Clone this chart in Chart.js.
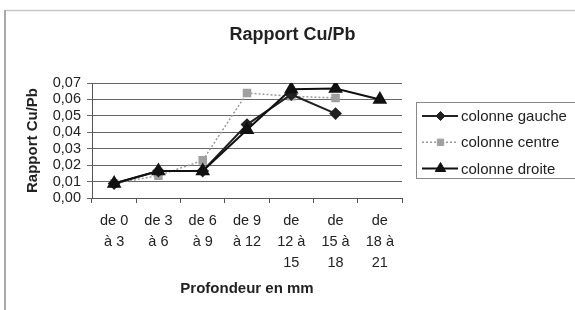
<!DOCTYPE html>
<html>
<head>
<meta charset="utf-8">
<script src="https://cdn.jsdelivr.net/npm/chart.js@4/dist/chart.umd.min.js"></script>
<style>
html,body{margin:0;padding:0;background:#fff;}
#wrap{width:575px;height:310px;position:relative;}
</style>
</head>
<body>
<div id="wrap"><canvas id="c" width="575" height="310"></canvas></div>
<script>
const categories = [["de 0","à 3"],["de 3","à 6"],["de 6","à 9"],["de 9","à 12"],["de","12 à","15"],["de","15 à","18"],["de","18 à","21"]];
const colonneGauche = [0.0088, 0.0164, 0.0164, 0.0447, 0.063, 0.0514, null];
const colonneCentre = [0.0088, 0.0136, 0.0229, 0.0639, 0.0619, 0.0609, null];
const colonneDroite = [0.0088, 0.0164, 0.0164, 0.0416, 0.0662, 0.0666, 0.060];
const seriesNames = ["colonne gauche", "colonne centre", "colonne droite"];
const yTicks = {min: 0, max: 0.07, step: 0.01};

const FONT = "'Liberation Sans', Arial, sans-serif";
Chart.defaults.font.family = FONT;
Chart.defaults.color = '#222';

const frame = {
  id: 'frame',
  beforeDraw(chart) {
    const ctx = chart.ctx;
    ctx.save();
    ctx.fillStyle = '#fff';
    ctx.fillRect(0, 0, chart.width, chart.height);
    ctx.strokeStyle = '#c8c8c8';
    ctx.lineWidth = 1.5;
    ctx.beginPath();
    ctx.moveTo(5, 10.5); ctx.lineTo(chart.width, 10.5);
    ctx.stroke();
    ctx.strokeStyle = '#a8a8a8';
    ctx.lineWidth = 2;
    ctx.beginPath();
    ctx.moveTo(5, 10); ctx.lineTo(5, chart.height);
    ctx.stroke();
    ctx.restore();
  }
};

const boxLegend = {
  id: 'boxLegend',
  afterDraw(chart) {
    const ctx = chart.ctx;
    ctx.save();
    ctx.strokeStyle = '#888';
    ctx.lineWidth = 1;
    ctx.strokeRect(416.5, 102.5, 165, 76);
    const ys = [116, 142.3, 168.5];
    chart.data.datasets.forEach((ds, i) => {
      const y = ys[i];
      ctx.save();
      ctx.strokeStyle = ds.borderColor;
      ctx.lineWidth = ds.borderWidth;
      ctx.setLineDash(ds.borderDash || []);
      ctx.beginPath();
      ctx.moveTo(422, y); ctx.lineTo(458, y);
      ctx.stroke();
      ctx.restore();
      ctx.save();
      ctx.fillStyle = ds.pointBackgroundColor;
      ctx.strokeStyle = ds.pointBorderColor;
      ctx.lineWidth = 1;
      Chart.helpers.drawPoint(ctx, {
        pointStyle: ds.pointStyle, radius: ds.pointRadius - 0.5, borderWidth: 1, rotation: 0
      }, 440.5, y);
      ctx.restore();
      ctx.fillStyle = '#222';
      ctx.font = '15px ' + FONT;
      ctx.textBaseline = 'middle';
      ctx.textAlign = 'left';
      ctx.fillText(ds.label, 461, y + 1);
    });
    ctx.restore();
  }
};

new Chart(document.getElementById('c'), {
  type: 'line',
  data: {
    labels: categories,
    datasets: [
      {
        label: seriesNames[0], data: colonneGauche, order: 2,
        borderColor: '#222', borderWidth: 2, pointStyle: 'rectRot', pointRadius: 5,
        pointBackgroundColor: '#222', pointBorderColor: '#222', tension: 0
      },
      {
        label: seriesNames[1], data: colonneCentre, order: 3,
        borderColor: '#9a9a9a', borderWidth: 1.5, borderDash: [2, 2], pointStyle: 'rect', pointRadius: 5,
        pointBackgroundColor: '#a0a0a0', pointBorderColor: '#a0a0a0', tension: 0
      },
      {
        label: seriesNames[2], data: colonneDroite, order: 1,
        borderColor: '#111', borderWidth: 2, pointStyle: 'triangle', pointRadius: 6.5,
        pointBackgroundColor: '#111', pointBorderColor: '#111', tension: 0
      }
    ]
  },
  options: {
    responsive: false,
    animation: false,
    devicePixelRatio: 1,
    layout: {padding: {left: 10, right: 0, top: 0, bottom: 0}},
    plugins: {
      legend: {display: false},
      tooltip: {enabled: false},
      title: {
        display: true, text: 'Rapport Cu/Pb', color: '#222',
        font: {size: 18, weight: 'bold', lineHeight: 1.2},
        padding: {top: 24, bottom: 37.4}
      }
    },
    scales: {
      x: {
        offset: true,
        grid: {offset: true, drawOnChartArea: false, tickLength: 5, color: '#555'},
        border: {display: true, color: '#555', width: 1},
        ticks: {maxRotation: 0, autoSkip: false, padding: 7, color: '#222',
          font: {size: 14.5, lineHeight: 1.45}},
        title: {display: true, text: 'Profondeur en mm', color: '#222',
          font: {size: 15, weight: 'bold', lineHeight: 1.2}, padding: {top: 4, bottom: 12}},
        afterFit(s) { s.height = 112; }
      },
      y: {
        min: yTicks.min, max: yTicks.max,
        grid: {color: '#666', tickLength: 5, lineWidth: 1},
        border: {display: true, color: '#555', width: 1},
        ticks: {stepSize: yTicks.step, autoSkip: false, padding: 6, color: '#222', font: {size: 14.5},
          callback: v => v.toFixed(2).replace('.', ',')},
        title: {display: true, text: 'Rapport Cu/Pb', color: '#222',
          font: {size: 15, weight: 'bold', lineHeight: 1.2}, padding: {top: 14, bottom: 0}},
        afterFit(s) { s.width = 82; }
      },
      yR: {
        position: 'right', display: true,
        grid: {display: false}, border: {display: false},
        ticks: {display: false},
        afterFit(s) { s.width = 173; }
      }
    }
  },
  plugins: [frame, boxLegend]
});
</script>
</body>
</html>
